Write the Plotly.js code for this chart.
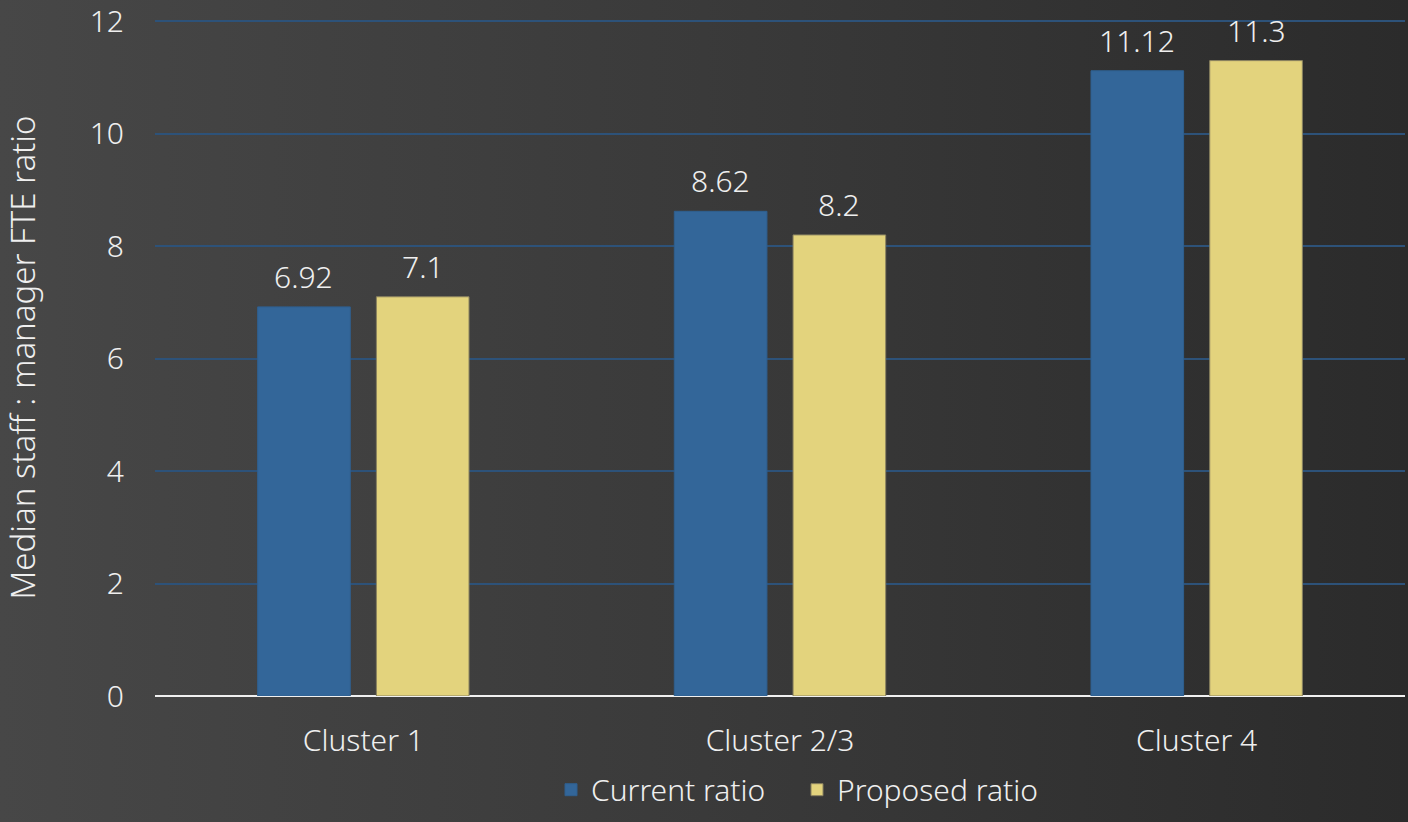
<!DOCTYPE html>
<html>
<head>
<meta charset="utf-8">
<script src="https://cdn.plot.ly/plotly-3.0.1.min.js"></script>
<style>
html,body{margin:0;padding:0;width:1408px;height:822px;overflow:hidden;}
body{background:linear-gradient(to right,#474747 0%,#3a3a3a 50%,#2b2b2b 100%);}
#chart{width:1408px;height:822px;}
</style>
</head>
<body>
<div id="chart"></div>
<script>
const categories = ["Cluster 1", "Cluster 2/3", "Cluster 4"];
const currentRatio = [6.92, 8.62, 11.12];
const proposedRatio = [7.1, 8.2, 11.3];
const currentLabels = ["6.92", "8.62", "11.12"];
const proposedLabels = ["7.1", "8.2", "11.3"];
const yTicks = [0, 2, 4, 6, 8, 10, 12];

const FONT = "'Noto Sans', 'Open Sans', sans-serif";
const TXT = "#efefef";
const W = 300;
const BARGAP = 0.43;
const half = (1 - BARGAP) / 4; // offset of each bar centre from category centre

const data = [
  {
    type: "bar", name: "Current ratio", x: categories, y: currentRatio,
    marker: {color: "#336699", line: {color: "#2f5f8f", width: 1}},
    hoverinfo: "none"
  },
  {
    type: "bar", name: "Proposed ratio", x: categories, y: proposedRatio,
    marker: {color: "#e3d37d", line: {color: "#8a8260", width: 1}},
    hoverinfo: "none"
  }
];

const annotations = [];
categories.forEach((c, i) => {
  annotations.push({x: i - half, y: currentRatio[i], xref: "x", yref: "y",
    text: currentLabels[i], showarrow: false, yanchor: "bottom", yshift: 8,
    font: {family: FONT, size: 30, color: TXT, weight: W}});
  annotations.push({x: i + half, y: proposedRatio[i], xref: "x", yref: "y",
    text: proposedLabels[i], showarrow: false, yanchor: "bottom", yshift: 8,
    font: {family: FONT, size: 30, color: TXT, weight: W}});
});

const layout = {
  width: 1408, height: 822,
  paper_bgcolor: "rgba(0,0,0,0)", plot_bgcolor: "rgba(0,0,0,0)",
  margin: {l: 155, r: 3, t: 19, b: 126},
  barmode: "group", bargap: BARGAP, bargroupgap: 0.22,
  showlegend: true,
  font: {family: FONT, color: TXT, size: 30, weight: W},
  annotations: annotations,
  xaxis: {
    type: "category", showgrid: false, zeroline: false,
    showline: false, ticks: "", ticklabelstandoff: 24,
    tickfont: {family: FONT, size: 30, color: TXT, weight: W}
  },
  yaxis: {
    range: [0, 12.04], tickvals: yTicks, showgrid: true,
    gridcolor: "#2d5279", gridwidth: 2,
    zeroline: true, zerolinecolor: "#f0f0f0", zerolinewidth: 2,
    showline: false, ticks: "", ticklabelstandoff: 30,
    ticklabeloverflow: "allow",
    tickfont: {family: FONT, size: 30, color: TXT, weight: W},
    title: {text: "Median staff : manager FTE ratio", standoff: 78,
            font: {family: FONT, size: 33, color: TXT, weight: W}}
  },
  legend: {
    orientation: "h", x: 0.3168, xanchor: "left", y: -0.1, yanchor: "top",
    font: {family: FONT, size: 30, color: TXT, weight: W},
    itemwidth: 30, entrywidth: 201, entrywidthmode: "pixels",
    traceorder: "normal", bgcolor: "rgba(0,0,0,0)"
  }
};

Plotly.newPlot("chart", data, layout, {displayModeBar: false, staticPlot: true});
</script>
</body>
</html>
